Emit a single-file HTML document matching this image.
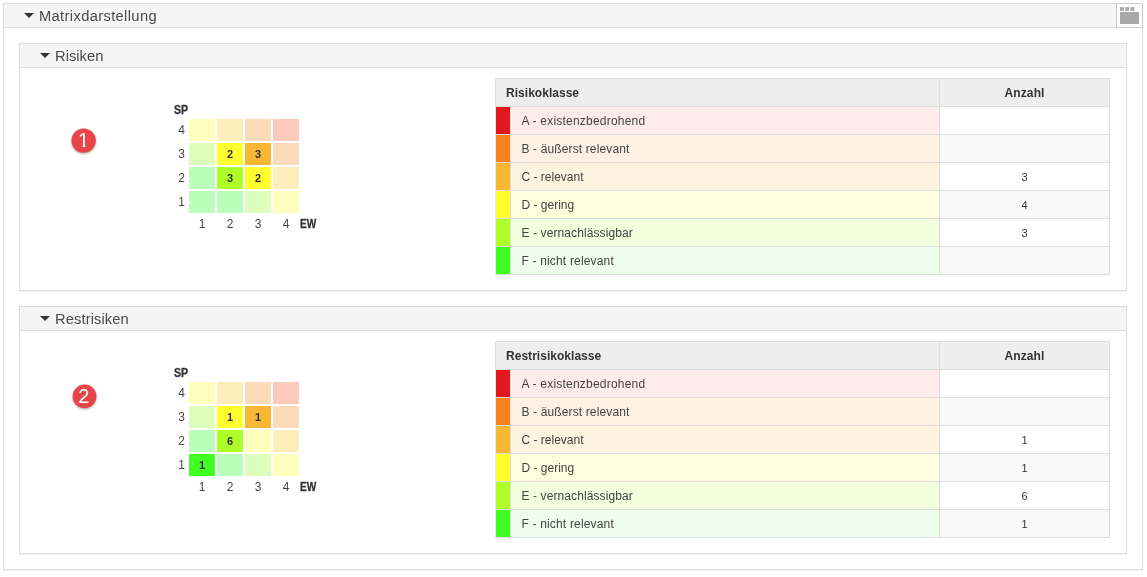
<!DOCTYPE html>
<html lang="de">
<head>
<meta charset="utf-8">
<title>Matrixdarstellung</title>
<style>
*{box-sizing:border-box}
html,body{margin:0;padding:0;background:#fff}
body{width:1147px;height:577px;position:relative;overflow:hidden;font-family:"Liberation Sans",sans-serif;color:#444;font-size:12px}
.panel{position:absolute;border:1px solid #ddd;background:#fff;box-shadow:0 1px 1px rgba(0,0,0,.05)}
.outer{left:3px;top:3px;width:1140px;height:567px}
.inner{left:15px;width:1108px;height:248px}
.p1{top:39px}
.p2{top:302px}
.phead{position:absolute;left:0;top:0;right:0;height:24px;background:#f5f5f5;border-bottom:1px solid #ddd}
.arrow{position:absolute;left:20px;top:9px;width:0;height:0;border-left:5px solid transparent;border-right:5px solid transparent;border-top:5px solid #333}
.ptitle{position:absolute;left:35px;top:1px;height:23px;line-height:23px;font-size:14.7px;white-space:nowrap;color:#4a4a4a}
.outer>.phead>.ptitle{letter-spacing:.36px}
.tool{position:absolute;right:-1px;top:-1px;width:27px;height:25px;border:1px solid #ccc;background:#fff}
.tool svg{position:absolute;left:3px;top:3px;fill:#a8a8a8}
.pbody{position:absolute;left:0;top:24px;right:0;bottom:0}
.badge{position:absolute;left:44px;top:52px;overflow:visible;font-family:"Liberation Sans",sans-serif;font-size:20px}
.badge circle{fill:#e84548;filter:drop-shadow(0 1px 1px rgba(0,0,0,.35))}
.badge text{fill:#fff}
.matrix{position:absolute;left:169px;top:51px;width:112px;height:94px}
.cell{position:absolute;width:26px;height:22px;font-weight:bold;font-size:11px;line-height:23px;text-align:center;color:#333}
.ax{position:absolute;font-size:12px;line-height:14px;white-space:nowrap;color:#444}
.sp{left:-15px;top:-16px;font-weight:bold;font-size:12px;transform:scaleX(.88);transform-origin:0 50%;color:#333;-webkit-text-stroke:.3px #333}
.yl{left:-20px;width:16px;text-align:right;height:22px;line-height:22px}
.xl{top:98px;width:26px;text-align:center}
.ew{left:111px;top:98px;font-weight:bold;font-size:12px;transform:scaleX(.84);transform-origin:0 50%;color:#333;-webkit-text-stroke:.3px #333}
.tbl{position:absolute;left:475px;top:10px;width:615px;border-collapse:separate;border-spacing:0;table-layout:fixed;font-size:12px}
.tbl th,.tbl td{height:28px;padding:0;border:0 solid #ddd;border-width:0 1px 1px 0;vertical-align:middle;line-height:14px;white-space:nowrap}
.tbl th{height:29px;border-top-width:1px;background:#eee;font-weight:bold;color:#333}
.tbl th.c1{border-left-width:1px;text-align:left;padding-left:10px;letter-spacing:.03px}
.tbl td.c0{border-left:1px solid #e8e8e8}
.tbl td.c1{text-align:left;padding-left:10.5px}
.tbl .c2{text-align:center}
.tbl th.c2{letter-spacing:.12px}
.tbl td.c2{font-size:11px;color:#333}
.tbl tr.odd td.c2{background:#fff}
.tbl tr.even td.c2{background:#f9f9f9}
.p2 .badge{top:45px}

</style>
</head>
<body>
<section class="panel outer">
<header class="phead"><span class="arrow"></span><span class="ptitle">Matrixdarstellung</span>
<div class="tool"><svg width="19" height="17" viewBox="0 0 19 17"><rect x="0" y="0.1" width="3.8" height="3.8"/><rect x="5.25" y="0.1" width="3.8" height="3.8"/><rect x="10.5" y="0.1" width="3.8" height="3.8"/><rect x="0" y="5" width="19" height="12"/></svg></div>
</header>
<section class="panel inner p1">
<header class="phead"><span class="arrow"></span><span class="ptitle" style="letter-spacing:0.03px">Risiken</span></header>
<div class="pbody">
<svg class="badge" width="40" height="40" viewBox="0 0 40 40" role="img" aria-label="1"><clipPath id="one" clipPathUnits="userSpaceOnUse"><rect x="0" y="0" width="40" height="25"/><rect x="18.7" y="24" width="2.6" height="4"/></clipPath><circle cx="19.65" cy="20.6" r="12.2"/><text x="19.65" y="26.5" text-anchor="middle" clip-path="url(#one)">1</text></svg>
<div class="matrix">
<span class="ax sp">SP</span>
<span class="ax yl" style="top:0px">4</span>
<div class="cell" style="left:0px;top:0px;background:#ffffbd"></div>
<div class="cell" style="left:28px;top:0px;background:#fdedbb"></div>
<div class="cell" style="left:56px;top:0px;background:#fbdbb9"></div>
<div class="cell" style="left:84px;top:0px;background:#fbcabb"></div>
<span class="ax yl" style="top:24px">3</span>
<div class="cell" style="left:0px;top:24px;background:#ddfdbb"></div>
<div class="cell" style="left:28px;top:24px;background:#ffff30">2</div>
<div class="cell" style="left:56px;top:24px;background:#f8b732">3</div>
<div class="cell" style="left:84px;top:24px;background:#fbdbb9"></div>
<span class="ax yl" style="top:48px">2</span>
<div class="cell" style="left:0px;top:48px;background:#bbfdbb"></div>
<div class="cell" style="left:28px;top:48px;background:#adff27">3</div>
<div class="cell" style="left:56px;top:48px;background:#ffff30">2</div>
<div class="cell" style="left:84px;top:48px;background:#fdedbb"></div>
<span class="ax yl" style="top:72px">1</span>
<div class="cell" style="left:0px;top:72px;background:#bbfdbb"></div>
<div class="cell" style="left:28px;top:72px;background:#bbfdbb"></div>
<div class="cell" style="left:56px;top:72px;background:#ddfdbb"></div>
<div class="cell" style="left:84px;top:72px;background:#ffffbd"></div>
<span class="ax xl" style="left:0px">1</span>
<span class="ax xl" style="left:28px">2</span>
<span class="ax xl" style="left:56px">3</span>
<span class="ax xl" style="left:84px">4</span>
<span class="ax ew">EW</span>
</div>
<table class="tbl"><colgroup><col style="width:16px"><col style="width:429px"><col style="width:170px"></colgroup><thead><tr><th class="c1" colspan="2">Risikoklasse</th><th class="c2">Anzahl</th></tr></thead><tbody>
<tr class="odd"><td class="c0" style="background:#e2191c"></td><td class="c1" style="background:#feecec;letter-spacing:0.21px">A - existenzbedrohend</td><td class="c2"></td></tr>
<tr class="even"><td class="c0" style="background:#f5821f"></td><td class="c1" style="background:#fef0e3;letter-spacing:0.13px">B - äußerst relevant</td><td class="c2"></td></tr>
<tr class="odd"><td class="c0" style="background:#f8b732"></td><td class="c1" style="background:#fdf3df">C - relevant</td><td class="c2">3</td></tr>
<tr class="even"><td class="c0" style="background:#ffff30"></td><td class="c1" style="background:#ffffde">D - gering</td><td class="c2">4</td></tr>
<tr class="odd"><td class="c0" style="background:#adff27"></td><td class="c1" style="background:#f3fede;letter-spacing:0.1px">E - vernachlässigbar</td><td class="c2">3</td></tr>
<tr class="even"><td class="c0" style="background:#40ff22"></td><td class="c1" style="background:#edfeed;letter-spacing:0.17px">F - nicht relevant</td><td class="c2"></td></tr>
</tbody></table>
</div>
</section>
<section class="panel inner p2">
<header class="phead"><span class="arrow"></span><span class="ptitle" style="letter-spacing:0.11px">Restrisiken</span></header>
<div class="pbody">
<svg class="badge" width="40" height="40" viewBox="0 0 40 40" role="img" aria-label="2"><circle cx="20.55" cy="20.4" r="11.85"/><text x="19.85" y="27.2" text-anchor="middle">2</text></svg>
<div class="matrix">
<span class="ax sp">SP</span>
<span class="ax yl" style="top:0px">4</span>
<div class="cell" style="left:0px;top:0px;background:#ffffbd"></div>
<div class="cell" style="left:28px;top:0px;background:#fdedbb"></div>
<div class="cell" style="left:56px;top:0px;background:#fbdbb9"></div>
<div class="cell" style="left:84px;top:0px;background:#fbcabb"></div>
<span class="ax yl" style="top:24px">3</span>
<div class="cell" style="left:0px;top:24px;background:#ddfdbb"></div>
<div class="cell" style="left:28px;top:24px;background:#ffff30">1</div>
<div class="cell" style="left:56px;top:24px;background:#f8b732">1</div>
<div class="cell" style="left:84px;top:24px;background:#fbdbb9"></div>
<span class="ax yl" style="top:48px">2</span>
<div class="cell" style="left:0px;top:48px;background:#bbfdbb"></div>
<div class="cell" style="left:28px;top:48px;background:#adff27">6</div>
<div class="cell" style="left:56px;top:48px;background:#ffffbd"></div>
<div class="cell" style="left:84px;top:48px;background:#fdedbb"></div>
<span class="ax yl" style="top:72px">1</span>
<div class="cell" style="left:0px;top:72px;background:#40ff22">1</div>
<div class="cell" style="left:28px;top:72px;background:#bbfdbb"></div>
<div class="cell" style="left:56px;top:72px;background:#ddfdbb"></div>
<div class="cell" style="left:84px;top:72px;background:#ffffbd"></div>
<span class="ax xl" style="left:0px">1</span>
<span class="ax xl" style="left:28px">2</span>
<span class="ax xl" style="left:56px">3</span>
<span class="ax xl" style="left:84px">4</span>
<span class="ax ew">EW</span>
</div>
<table class="tbl"><colgroup><col style="width:16px"><col style="width:429px"><col style="width:170px"></colgroup><thead><tr><th class="c1" colspan="2">Restrisikoklasse</th><th class="c2">Anzahl</th></tr></thead><tbody>
<tr class="odd"><td class="c0" style="background:#e2191c"></td><td class="c1" style="background:#feecec;letter-spacing:0.21px">A - existenzbedrohend</td><td class="c2"></td></tr>
<tr class="even"><td class="c0" style="background:#f5821f"></td><td class="c1" style="background:#fef0e3;letter-spacing:0.13px">B - äußerst relevant</td><td class="c2"></td></tr>
<tr class="odd"><td class="c0" style="background:#f8b732"></td><td class="c1" style="background:#fdf3df">C - relevant</td><td class="c2">1</td></tr>
<tr class="even"><td class="c0" style="background:#ffff30"></td><td class="c1" style="background:#ffffde">D - gering</td><td class="c2">1</td></tr>
<tr class="odd"><td class="c0" style="background:#adff27"></td><td class="c1" style="background:#f3fede;letter-spacing:0.1px">E - vernachlässigbar</td><td class="c2">6</td></tr>
<tr class="even"><td class="c0" style="background:#40ff22"></td><td class="c1" style="background:#edfeed;letter-spacing:0.17px">F - nicht relevant</td><td class="c2">1</td></tr>
</tbody></table>
</div>
</section>
</section>
</body>
</html>
